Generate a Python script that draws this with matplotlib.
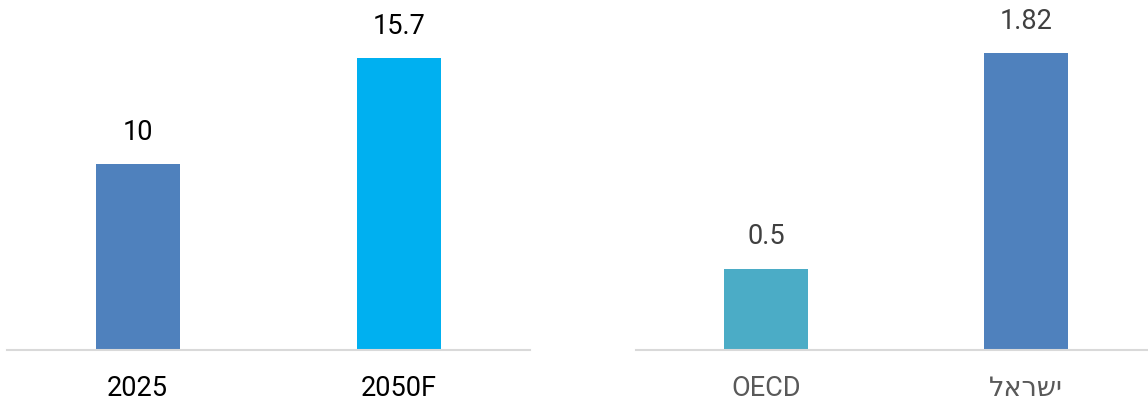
import matplotlib
matplotlib.use("Agg")
import matplotlib.pyplot as plt

left_categories = ["2025", "2050F"]
left_values = [10, 15.7]
left_labels = ["10", "15.7"]
left_colors = ["#4F81BD", "#00B0F0"]

right_categories = ["OECD", "ישראל"]
right_values = [0.5, 1.82]
right_labels = ["0.5", "1.82"]
right_colors = ["#4BACC6", "#4F81BD"]

plt.rcParams['font.family'] = ['Roboto', 'DejaVu Sans']

W, H = 1148, 403
fig = plt.figure(figsize=(W / 100, H / 100), dpi=100)

base = (H - 350) / H
ax1 = fig.add_axes([7 / W, base, 523 / W, 1 - base])
ax2 = fig.add_axes([636 / W, base, 520 / W, 1 - base])


def visual(s):
    # matplotlib lays text out left-to-right; reverse Hebrew for visual order
    if any('\u0590' <= c <= '\u05FF' for c in s):
        return s[::-1]
    return s


def draw(ax, cats, vals, labels, colors, ymax, val_color, tick_color):
    x = list(range(len(cats)))
    ax.bar(x, vals, width=0.32, color=colors)
    ax.set_xlim(-0.5, len(cats) - 0.5)
    ax.set_ylim(0, ymax)
    for xi, v, lab in zip(x, vals, labels):
        ax.annotate(lab, (xi, v), xytext=(0, 13), textcoords='offset points',
                    ha='center', va='bottom', fontsize=19.5, color=val_color)
    ax.set_xticks(x)
    ax.set_xticklabels([visual(c) for c in cats], fontsize=19.5, color=tick_color)
    ax.tick_params(axis='x', length=0, pad=18)
    ax.set_yticks([])
    for s in ['top', 'right', 'left']:
        ax.spines[s].set_visible(False)
    ax.spines['bottom'].set_color('#D9D9D9')
    ax.spines['bottom'].set_linewidth(1.5)
    ax.patch.set_alpha(0)


draw(ax1, left_categories, left_values, left_labels, left_colors,
     350 / 18.6, '#000000', '#000000')
draw(ax2, right_categories, right_values, right_labels, right_colors,
     350 / 163.0, '#404040', '#595959')

fig.savefig("out.png", dpi=100)
